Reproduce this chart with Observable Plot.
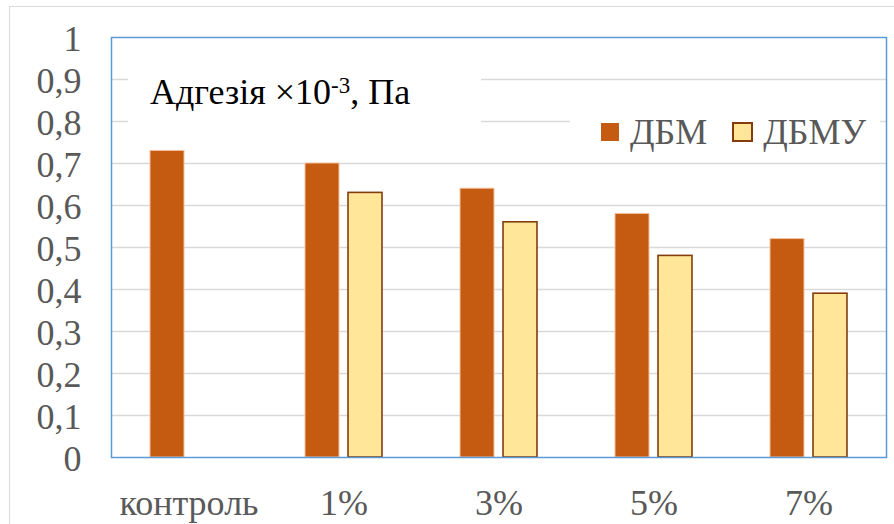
<!DOCTYPE html>
<html>
<head>
<meta charset="utf-8">
<script src="https://cdn.jsdelivr.net/npm/d3@7"></script>
<script src="https://cdn.jsdelivr.net/npm/@observablehq/plot@0.6"></script>
<style>
  html, body { margin: 0; padding: 0; background: #fff; overflow: hidden; }
  #wrap { position: relative; width: 894px; height: 524px; overflow: hidden; }
  #outer { position: absolute; left: 9px; top: 6px; width: 920px; height: 620px;
           border: 1.5px solid #d9d9d9; box-sizing: border-box; }
  #chart { position: absolute; left: 0; top: 0; }
  .title { position: absolute; left: 128px; top: 66px; width: 353px; height: 62px;
           background: #fff; box-sizing: border-box; padding-left: 22px; padding-top: 8px;
           font-family: "Liberation Serif", "Times New Roman", serif; font-size: 36px;
           line-height: 36px; color: #000; white-space: nowrap; }
  .title sup { font-size: 23px; line-height: 0; vertical-align: 11px; }
  .legend { position: absolute; left: 570px; top: 100px; width: 310px; height: 54px;
            background: #fff; box-sizing: border-box; padding-left: 31px; padding-top: 9px;
            display: flex; align-items: center; height: 54px;
            font-family: "Liberation Serif", "Times New Roman", serif; font-size: 36px;
            line-height: 36px; color: #595959; white-space: nowrap; }
  .legend .item { display: flex; align-items: center; height: 36px; }
  .legend .sw { display: inline-block; box-sizing: border-box; }
</style>
</head>
<body>
<div id="wrap">
  <div id="outer"></div>
  <div id="chart"></div>
  <div class="title">Адгезія ×10<sup>-3</sup>, Па</div>
  <div class="legend" id="legend"></div>
</div>
<script>
// Categories along the horizontal axis
const categories = ["контроль", "1%", "3%", "5%", "7%"];
// Two series: base binder and modified binder
const seriesNames = ["ДБМ", "ДБМУ"];
const dbm  = [0.73, 0.70, 0.64, 0.58, 0.52];
const dbmu = [null, 0.63, 0.56, 0.48, 0.39];
// Value axis ticks
const yTicks = [0, 0.1, 0.2, 0.3, 0.4, 0.5, 0.6, 0.7, 0.8, 0.9, 1];
const gridTicks = [0.1, 0.2, 0.3, 0.4, 0.5, 0.6, 0.7, 0.8, 0.9];

const seriesStyle = {
  "ДБМ":  {fill: "#c55a11", stroke: "#f4c2a0", strokeWidth: 1},
  "ДБМУ": {fill: "#ffe699", stroke: "#843c0c", strokeWidth: 1.6}
};

// Long-form rows for the grouped bars
const rows = [];
categories.forEach((c, i) => {
  if (dbm[i] != null) rows.push({cat: c, series: "ДБМ", value: dbm[i]});
  if (dbmu[i] != null) rows.push({cat: c, series: "ДБМУ", value: dbmu[i]});
});

const fmt = v => String(v).replace(".", ",");

const chart = Plot.plot({
  width: 894,
  height: 524,
  marginTop: 37,
  marginBottom: 67,
  marginLeft: 110,
  marginRight: 7,
  style: {
    fontFamily: "'Liberation Serif', 'Times New Roman', serif",
    fontSize: "36px",
    color: "#595959",
    background: "transparent",
    overflow: "visible"
  },
  fx: {domain: categories, padding: 0, label: null},
  x: {domain: seriesNames, paddingInner: 0.2045, paddingOuter: 0.868, axis: null},
  y: {domain: [0, 1], label: null},
  marks: [
    Plot.ruleY(gridTicks, {stroke: "#d9d9d9", strokeWidth: 1.4}),
    ...seriesNames.map(s => Plot.barY(rows.filter(d => d.series === s), {
      fx: "cat", x: "series", y: "value", inset: 0,
      fill: seriesStyle[s].fill,
      stroke: seriesStyle[s].stroke,
      strokeWidth: seriesStyle[s].strokeWidth
    })),
    Plot.frame({stroke: "#5b9bd5", strokeWidth: 1.5, facet: "super"}),
    Plot.axisY({ticks: yTicks, tickFormat: fmt, tickSize: 0, tickPadding: 30, dy: 2, label: null}),
    Plot.axisFx({anchor: "bottom", tickSize: 0, tickPadding: 32, label: null})
  ]
});
document.getElementById("chart").appendChild(chart);

// Legend
const legend = document.getElementById("legend");
seriesNames.forEach((s, i) => {
  const item = document.createElement("span");
  item.className = "item";
  if (i > 0) item.style.marginLeft = "25px";
  const sw = document.createElement("span");
  sw.className = "sw";
  if (i === 0) {
    sw.style.width = "18px"; sw.style.height = "18px";
    sw.style.background = seriesStyle[s].fill;
  } else {
    sw.style.width = "21px"; sw.style.height = "20px";
    sw.style.background = seriesStyle[s].fill;
    sw.style.border = "2px solid " + seriesStyle[s].stroke;
  }
  sw.style.marginRight = i === 0 ? "11px" : "10px";
  const label = document.createElement("span");
  label.textContent = s;
  item.appendChild(sw);
  item.appendChild(label);
  legend.appendChild(item);
});
</script>
</body>
</html>
